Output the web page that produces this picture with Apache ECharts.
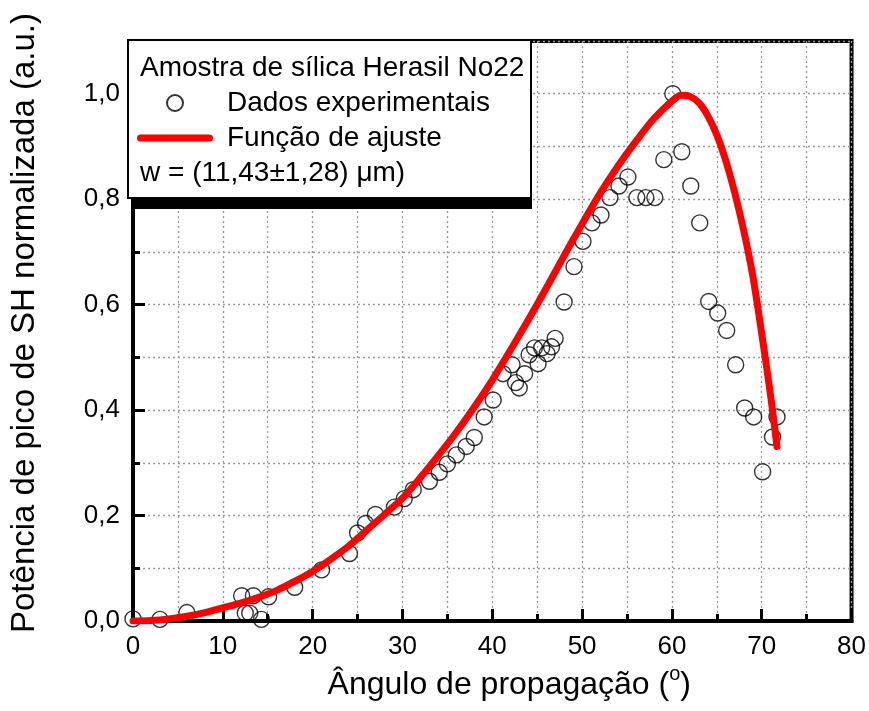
<!DOCTYPE html>
<html>
<head>
<meta charset="utf-8">
<script src="https://cdn.jsdelivr.net/npm/echarts@6/dist/echarts.min.js"></script>
<style>html,body{margin:0;padding:0;background:#fff}#c{width:869px;height:711px}</style>
</head>
<body>
<div id="c"></div>
<script>
// Experimental data (angle in degrees, normalized SH peak power)
const expX = [0, 3, 6, 12.1, 12.5, 13.0, 13.4, 14.3, 15.1, 18, 21, 24.1, 25, 25.9, 27, 29.1, 30.2, 31.2, 33, 34.1, 35, 36, 37.1, 38, 39.1, 40.1, 41.2, 42.2, 42.6, 43.0, 43.6, 44.1, 44.7, 45.1, 45.5, 46.1, 46.6, 47.0, 48.0, 49.1, 50.1, 51.1, 52.1, 53.1, 54.1, 55.1, 56.1, 57.1, 58.1, 59.1, 60.1, 61.1, 62.1, 63.1, 64.1, 65.1, 66.1, 67.1, 68.1, 69.1, 70.1, 71.2, 71.7];
const expY = [0.004, 0.003, 0.016, 0.048, 0.015, 0.015, 0.048, 0.003, 0.046, 0.064, 0.097, 0.128, 0.167, 0.185, 0.202, 0.216, 0.232, 0.249, 0.265, 0.282, 0.298, 0.315, 0.331, 0.348, 0.387, 0.419, 0.469, 0.486, 0.452, 0.442, 0.469, 0.505, 0.518, 0.488, 0.518, 0.507, 0.520, 0.536, 0.605, 0.672, 0.720, 0.755, 0.770, 0.803, 0.825, 0.842, 0.803, 0.803, 0.803, 0.875, 1.000, 0.890, 0.825, 0.755, 0.606, 0.584, 0.551, 0.486, 0.404, 0.387, 0.283, 0.349, 0.387];
// Fit curve
const fitX = [0, 2, 4, 6, 8, 10, 12, 14, 16, 18, 20, 22, 24, 26, 28, 30, 32, 34, 36, 38, 40, 42, 44, 46, 48, 50, 52, 54, 56, 58, 60, 61, 62, 63, 64, 65, 66, 67, 68, 69, 70, 71, 71.7];
const fitY = [0, 0.001, 0.004, 0.009, 0.016, 0.025, 0.034, 0.045, 0.058, 0.075, 0.094, 0.117, 0.142, 0.172, 0.202, 0.233, 0.272, 0.314, 0.358, 0.406, 0.457, 0.513, 0.571, 0.631, 0.693, 0.753, 0.811, 0.863, 0.910, 0.953, 0.986, 0.997, 0.995, 0.983, 0.958, 0.922, 0.873, 0.812, 0.740, 0.655, 0.545, 0.426, 0.331];
// Tick labels
const xTickLabels = ['0', '10', '20', '30', '40', '50', '60', '70', '80'];
const yTickLabels = ['0,0', '0,2', '0,4', '0,6', '0,8', '1,0'];

const FONT = "'Liberation Sans', Arial, sans-serif";
const expData = expX.map((x, i) => [x, expY[i]]);
const fitData = fitX.map((x, i) => [x, fitY[i]]);

const dotted = { type: [2, 3], color: '#9a9a9a', width: 1.3 };

const chart = echarts.init(document.getElementById('c'), null, { renderer: 'canvas' });
chart.setOption({
  animation: false,
  backgroundColor: '#fff',
  grid: { left: 131, right: 17, top: 41, bottom: 90, show: true, borderColor: '#000', borderWidth: 4, backgroundColor: 'transparent' },
  xAxis: {
    type: 'value', min: 0, max: 80, interval: 10,
    axisLine: { lineStyle: { color: '#000', width: 4 } },
    axisTick: { inside: true, length: 12, lineStyle: { color: '#000', width: 3 } },
    minorTick: { show: true, splitNumber: 2, length: 7, lineStyle: { color: '#000', width: 3 } },
    splitLine: { show: true, lineStyle: dotted },
    minorSplitLine: { show: true, lineStyle: dotted },
    axisLabel: { fontSize: 26, color: '#000', fontFamily: FONT, margin: 13,
      formatter: v => xTickLabels[Math.round(v / 10)] },
    name: '{m|Ângulo de propagação (}{sup|o}{m|)}',
    nameLocation: 'middle', nameGap: 39,
    nameTextStyle: { fontSize: 32, color: '#000', fontFamily: FONT, padding: [0, 0, 0, 34],
      rich: {
        m: { fontSize: 32, fontFamily: FONT, color: '#000', lineHeight: 36, verticalAlign: 'bottom' },
        sup: { fontSize: 20, fontFamily: FONT, color: '#000', lineHeight: 24, verticalAlign: 'top' }
      } }
  },
  yAxis: [{
    type: 'value', min: 0, max: 1.1, interval: 0.1,
    axisLine: { show: true, lineStyle: { color: '#000', width: 4 } },
    axisTick: { inside: true, length: 7, lineStyle: { color: '#000', width: 3 } },
    splitLine: { show: true, lineStyle: dotted },
    axisLabel: { show: false },
    name: 'Potência de pico de SH normalizada (a.u.)',
    nameLocation: 'middle', nameGap: 92,
    nameTextStyle: { fontSize: 33, color: '#000', fontFamily: FONT, padding: [0, 0, 0, 16] }
  }, {
    type: 'value', min: 0, max: 1.1, interval: 0.2, position: 'left',
    axisLine: { show: false },
    axisTick: { inside: true, length: 12, lineStyle: { color: '#000', width: 3 } },
    splitLine: { show: false },
    axisLabel: { fontSize: 26, color: '#000', fontFamily: FONT, margin: 13,
      formatter: v => (v > 1.05 ? '' : yTickLabels[Math.round(v / 0.2)]) }
  }],
  legend: {
    orient: 'vertical', left: 137, top: 88, padding: 0,
    itemWidth: 76, itemHeight: 16, itemGap: 5, selectedMode: false, symbolKeepAspect: true,
    textStyle: { fontSize: 28, color: '#000', fontFamily: FONT, lineHeight: 30, padding: [0, 0, 0, 9] },
    data: [
      { name: 'Dados experimentais' },
      { name: 'Função de ajuste', icon: 'path://M3.5,0H72.5A3.5,3.5,0,0,1,72.5,7H3.5A3.5,3.5,0,0,1,3.5,0Z', itemStyle: { color: '#ff0000', borderWidth: 0 } }
    ]
  },
  graphic: [
    { type: 'rect', z: 3, shape: { x: 131, y: 195, width: 401, height: 14 }, style: { fill: '#000' } },
    { type: 'rect', z: 3, shape: { x: 128, y: 40, width: 403, height: 158 }, style: { fill: '#fff', stroke: '#000', lineWidth: 2 } },
    { type: 'text', z: 5, x: 140, y: 68, style: { text: 'Amostra de sílica Herasil No22', fontSize: 28, fontFamily: FONT, fill: '#000', verticalAlign: 'middle' } },
    { type: 'text', z: 5, x: 140, y: 173, style: { text: 'w = (11,43±1,28) μm)', fontSize: 28, fontFamily: FONT, fill: '#000', verticalAlign: 'middle' } }
  ],
  series: [{
    name: 'Dados experimentais', type: 'scatter', data: expData,
    symbol: 'circle', symbolSize: 16,
    itemStyle: { color: 'rgba(0,0,0,0)', borderColor: '#000', borderWidth: 1.4 }
  }, {
    name: 'Função de ajuste', type: 'line', data: fitData,
    smooth: 0.3, symbol: 'none', showSymbol: false,
    lineStyle: { color: '#ff0000', width: 7, cap: 'round', join: 'round' },
    itemStyle: { color: '#ff0000' }
  }]
});
</script>
</body>
</html>
